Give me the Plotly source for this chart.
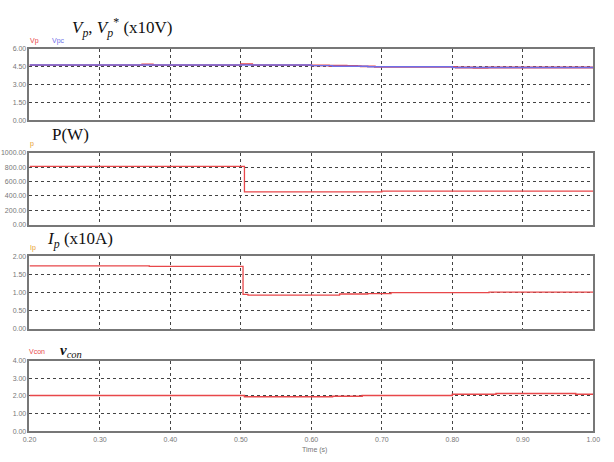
import plotly.graph_objects as go
from plotly.subplots import make_subplots

# ---- data ----
t_vpc = [0.20, 0.60, 0.63, 0.68, 0.80, 1.00]
vpc = [4.65, 4.60, 4.55, 4.50, 4.44, 4.44]

t_vp = [0.20, 0.36, 0.375, 0.50, 0.516, 0.60, 0.625, 0.65, 0.665, 0.67, 0.69, 0.80, 0.805, 0.83, 0.85, 1.00]
vp = [4.65, 4.71, 4.65, 4.73, 4.65, 4.62, 4.59, 4.58, 4.55, 4.53, 4.50, 4.49, 4.44, 4.42, 4.44, 4.44]

t_p = [0.20, 0.505, 0.70, 1.00]
p_w = [810, 455, 465, 465]

t_ip = [0.20, 0.37, 0.503, 0.51, 0.64, 0.68, 0.713, 0.852, 1.00]
ip = [1.73, 1.72, 0.95, 0.93, 0.96, 0.97, 1.00, 1.01, 1.01]

t_vcon = [0.20, 0.505, 0.63, 0.672, 0.80, 0.862, 0.975, 1.00]
vcon = [2.02, 1.95, 1.98, 2.02, 2.10, 2.14, 2.10, 2.10]

y_ticks = [
    [0, 1.5, 3.0, 4.5, 6.0],
    [0, 200, 400, 600, 800, 1000],
    [0, 0.5, 1.0, 1.5, 2.0],
    [0, 1.0, 2.0, 3.0, 4.0],
]
x_ticks = [0.2, 0.3, 0.4, 0.5, 0.6, 0.7, 0.8, 0.9, 1.0]

RED = "#e8474a"
BLUE = "#6f6fe8"
SMALL = dict(size=7, color="#777", family="Liberation Sans")

fig = make_subplots(rows=4, cols=1)

fig.add_trace(go.Scatter(x=t_vp, y=vp, mode="lines", line=dict(color=RED, width=1.8, shape="hv")), row=1, col=1)
fig.add_trace(go.Scatter(x=t_vpc, y=vpc, mode="lines", line=dict(color=BLUE, width=1.4, shape="hv")), row=1, col=1)
fig.add_trace(go.Scatter(x=t_p, y=p_w, mode="lines", line=dict(color=RED, width=1.3, shape="hv")), row=2, col=1)
fig.add_trace(go.Scatter(x=t_ip, y=ip, mode="lines", line=dict(color=RED, width=1.3, shape="hv")), row=3, col=1)
fig.add_trace(go.Scatter(x=t_vcon, y=vcon, mode="lines", line=dict(color=RED, width=1.5, shape="hv")), row=4, col=1)

W, H = 614, 462
panels_px = [(45.7, 118), (151, 224), (256, 330), (362, 434)]
xdom = [23 / W, 600 / W]

for i, (top, bot) in enumerate(panels_px):
    r = i + 1
    yt = y_ticks[i]
    fig.update_yaxes(row=r, col=1, domain=[1 - bot / H, 1 - top / H], range=[yt[0], yt[-1]],
                     tickvals=yt, tickformat=".2f", tickfont=SMALL,
                     showgrid=True, gridcolor="#444", griddash="dot", gridwidth=1,
                     showline=True, linecolor="#777", linewidth=1.6, mirror=True,
                     zeroline=False, ticks="", ticklen=0)
    fig.update_xaxes(row=r, col=1, domain=xdom, range=[0.2, 1.0], tickvals=x_ticks, tickformat=".2f",
                     showticklabels=(r == 4), tickfont=SMALL,
                     showgrid=True, gridcolor="#444", griddash="dot", gridwidth=1,
                     showline=True, linecolor="#777", linewidth=1.6, mirror=True,
                     zeroline=False, ticks="")

serif = dict(family="Liberation Serif", size=17, color="#111")
ann = [
    dict(x=64 / W, y=1 - 24 / H, text="<i>V<sub>p</sub></i>, <i>V<sub>p</sub></i><sup>*</sup> (x10V)", font=serif),
    dict(x=44 / W, y=1 - 132 / H, text="P(W)", font=serif),
    dict(x=39 / W, y=1 - 240 / H, text="<i>I<sub>p</sub></i> (x10A)", font=serif),
    dict(x=52 / W, y=1 - 352 / H, text="<b><i>v</i></b><sub><i>con</i></sub>", font=dict(family="Liberation Serif", size=15, color="#111")),
    dict(x=22 / W, y=1 - 38 / H, text="Vp", font=dict(size=7, color=RED, family="Liberation Sans")),
    dict(x=44 / W, y=1 - 38 / H, text="Vpc", font=dict(size=7, color=BLUE, family="Liberation Sans")),
    dict(x=22 / W, y=1 - 142 / H, text="p", font=dict(size=7, color="#e8a030", family="Liberation Sans")),
    dict(x=22 / W, y=1 - 248 / H, text="Ip", font=dict(size=7, color="#e8a030", family="Liberation Sans")),
    dict(x=20 / W, y=1 - 353 / H, text="Vcon", font=dict(size=7, color=RED, family="Liberation Sans")),
    dict(x=300 / W, y=1 - 453 / H, text="Time (s)", font=SMALL),
]
for a in ann:
    fig.add_annotation(xref="paper", yref="paper", xanchor="left", yanchor="middle", showarrow=False, **a)

fig.update_layout(width=W, height=H, margin=dict(l=0, r=0, t=0, b=0),
                  paper_bgcolor="white", plot_bgcolor="white", showlegend=False)

fig.write_html("out.html")
